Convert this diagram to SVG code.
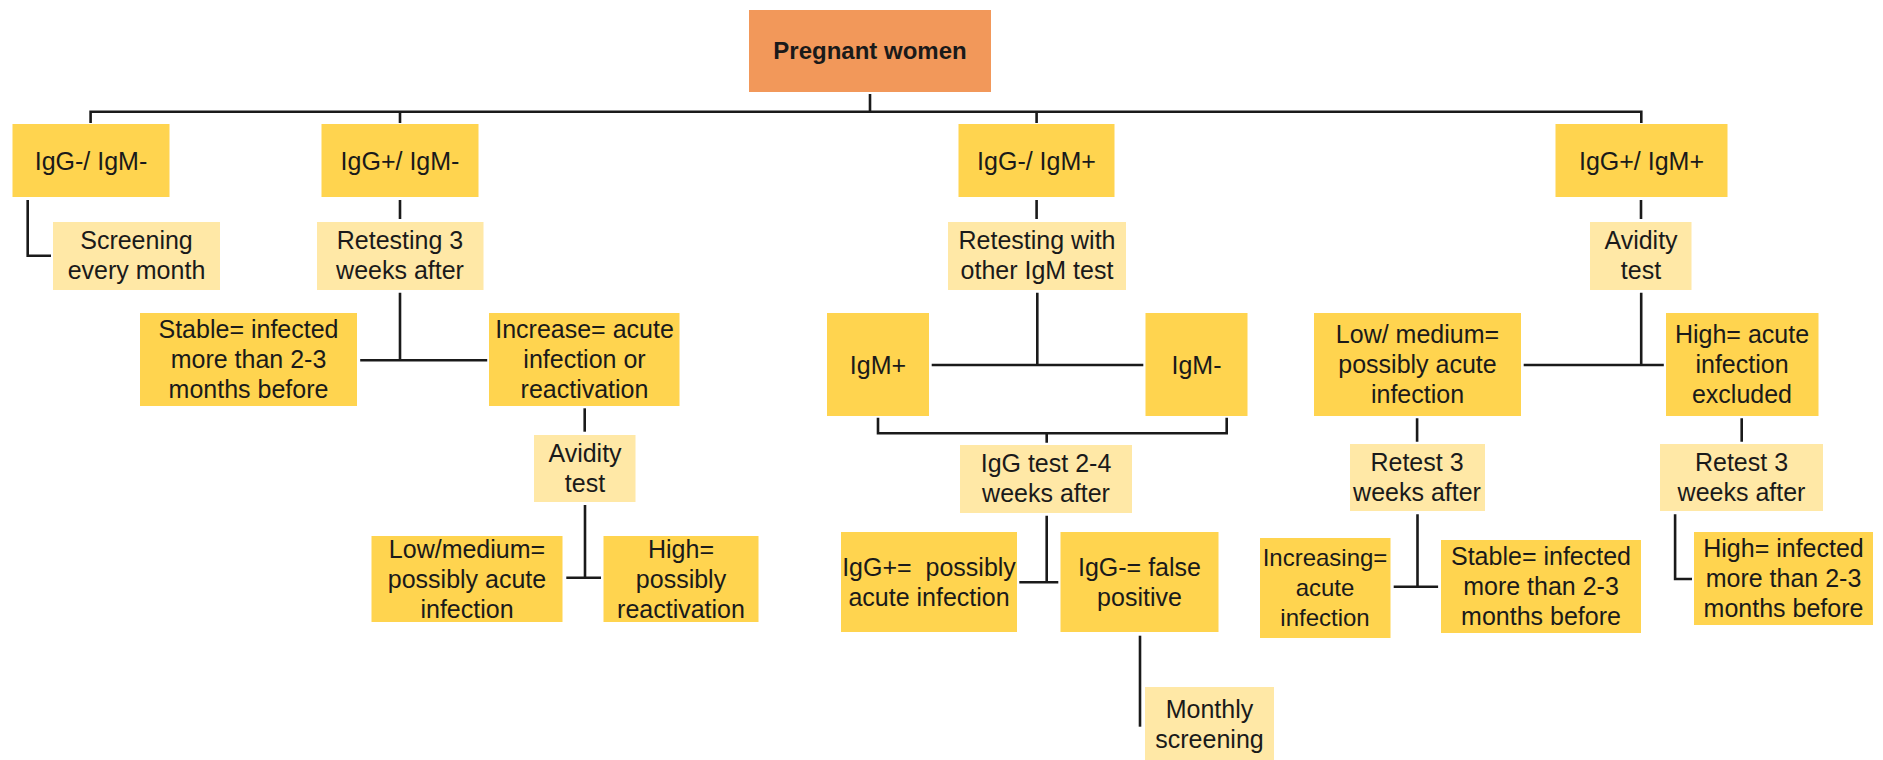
<svg xmlns="http://www.w3.org/2000/svg" width="1883" height="760" viewBox="0 0 1883 760">
<style>
.bg{fill:#ffffff}
.dk{fill:#FFD44F}
.lt{fill:#FFE8A6}
.or{fill:#F2985A}
text{font-family:"Liberation Sans",Arial,sans-serif;font-size:25px;fill:#1a1a1a;text-anchor:middle}
.b{font-weight:bold;font-size:24px}
.s{font-size:24px}
.c{fill:none;stroke:#1a1a1a;stroke-width:2.6;stroke-linecap:butt;stroke-linejoin:miter}
</style>
<rect class="bg" x="0" y="0" width="1883" height="760"/>
<g id="connectors">
<path class="c" d="M870 94 V112"/>
<path class="c" d="M90.6 123 V111.7 H1641.3 V123"/>
<path class="c" d="M400 111.7 V123 M1036.6 111.7 V123"/>
<path class="c" d="M27.7 200 V255.7 H51"/>
<path class="c" d="M400 200 V219 M1036.6 200 V219 M1641 200 V219"/>
<path class="c" d="M400 292.7 V360.3 M360.2 360.3 H487.2"/>
<path class="c" d="M584.7 408.3 V431.7"/>
<path class="c" d="M585 505 V577.7 M566.3 577.7 H601"/>
<path class="c" d="M1037.3 292.7 V365 M931.7 365 H1143.3"/>
<path class="c" d="M878 417.7 V433.3 H1226.7 V417.7 M1046.7 433.3 V442.7"/>
<path class="c" d="M1046.7 515.7 V582.3 M1019.3 582.3 H1058.3"/>
<path class="c" d="M1140 635.7 V726.7"/>
<path class="c" d="M1641.2 292.7 V365 M1523.7 365 H1663.8"/>
<path class="c" d="M1417.1 418.3 V441.7 M1741.7 418.3 V441.7"/>
<path class="c" d="M1417.5 514.3 V586.7 M1393.7 586.7 H1438.1"/>
<path class="c" d="M1675.1 514.3 V579 H1692"/>
</g>
<g id="pregnant"><rect class="or" x="749" y="10" width="242" height="82"/><text class="b" x="870" y="59">Pregnant women</text></g>
<g id="igg_neg_igm_neg"><rect class="dk" x="12.5" y="124" width="157" height="73"/><text x="91" y="169.5">IgG-/ IgM-</text></g>
<g id="igg_pos_igm_neg"><rect class="dk" x="321.5" y="124" width="157" height="73"/><text x="400" y="169.5">IgG+/ IgM-</text></g>
<g id="igg_neg_igm_pos"><rect class="dk" x="958.5" y="124" width="156" height="73"/><text x="1036.5" y="169.5">IgG-/ IgM+</text></g>
<g id="igg_pos_igm_pos"><rect class="dk" x="1555.5" y="124" width="172" height="73"/><text x="1641.5" y="169.5">IgG+/ IgM+</text></g>
<g id="screening"><rect class="lt" x="53" y="222" width="167" height="68"/><text x="136.5" y="249">Screening</text><text x="136.5" y="279">every month</text></g>
<g id="retesting3"><rect class="lt" x="317" y="222" width="166.5" height="68"/><text x="400" y="249">Retesting 3</text><text x="400" y="279">weeks after</text></g>
<g id="retesting_other"><rect class="lt" x="948" y="222" width="178" height="68"/><text x="1037" y="249">Retesting with</text><text x="1037" y="279">other IgM test</text></g>
<g id="avidity_right"><rect class="lt" x="1590" y="222" width="101.5" height="68"/><text x="1641" y="249">Avidity</text><text x="1641" y="279">test</text></g>
<g id="stable_left"><rect class="dk" x="140" y="313" width="217" height="93"/><text x="248.5" y="338">Stable= infected</text><text x="248.5" y="368">more than 2-3</text><text x="248.5" y="398">months before</text></g>
<g id="increase"><rect class="dk" x="489" y="313" width="190.5" height="93"/><text x="584.5" y="338">Increase= acute</text><text x="584.5" y="368">infection or</text><text x="584.5" y="398">reactivation</text></g>
<g id="igm_pos"><rect class="dk" x="827" y="313" width="102" height="103"/><text x="878" y="374">IgM+</text></g>
<g id="igm_neg"><rect class="dk" x="1145.5" y="313" width="102" height="103"/><text x="1196.5" y="374">IgM-</text></g>
<g id="low_medium_right"><rect class="dk" x="1314" y="313" width="207" height="103"/><text x="1417.5" y="343">Low/ medium=</text><text x="1417.5" y="373">possibly acute</text><text x="1417.5" y="403">infection</text></g>
<g id="high_acute"><rect class="dk" x="1666" y="313" width="152.5" height="103"/><text x="1742" y="343">High= acute</text><text x="1742" y="373">infection</text><text x="1742" y="403">excluded</text></g>
<g id="avidity_left"><rect class="lt" x="534" y="435" width="101.5" height="67"/><text x="585" y="462">Avidity</text><text x="585" y="492">test</text></g>
<g id="igg_test"><rect class="lt" x="960" y="445" width="172" height="68"/><text x="1046" y="472">IgG test 2-4</text><text x="1046" y="502">weeks after</text></g>
<g id="retest_left"><rect class="lt" x="1350" y="444" width="135" height="67"/><text x="1417" y="471">Retest 3</text><text x="1417" y="501">weeks after</text></g>
<g id="retest_right"><rect class="lt" x="1660" y="444" width="163" height="67"/><text x="1741.5" y="471">Retest 3</text><text x="1741.5" y="501">weeks after</text></g>
<g id="low_medium_left"><rect class="dk" x="371.5" y="536" width="191" height="86"/><text x="467" y="557.5">Low/medium=</text><text x="467" y="587.5">possibly acute</text><text x="467" y="617.5">infection</text></g>
<g id="high_reactivation"><rect class="dk" x="603.5" y="536" width="155" height="86"/><text x="681" y="557.5">High=</text><text x="681" y="587.5">possibly</text><text x="681" y="617.5">reactivation</text></g>
<g id="igg_pos_acute"><rect class="dk" x="841" y="532" width="176" height="100"/><text x="929" y="575.5" xml:space="preserve">IgG+=  possibly</text><text x="929" y="605.5">acute infection</text></g>
<g id="igg_neg_false"><rect class="dk" x="1060.5" y="532" width="158" height="100"/><text x="1139.5" y="575.5">IgG-= false</text><text x="1139.5" y="605.5">positive</text></g>
<g id="increasing"><rect class="dk" x="1260" y="538" width="130.5" height="100"/><text class="s" x="1325" y="566">Increasing=</text><text class="s" x="1325" y="596">acute</text><text class="s" x="1325" y="626">infection</text></g>
<g id="stable_right"><rect class="dk" x="1441" y="540" width="200" height="93"/><text x="1541" y="565">Stable= infected</text><text x="1541" y="595">more than 2-3</text><text x="1541" y="625">months before</text></g>
<g id="high_infected"><rect class="dk" x="1694" y="532" width="179" height="93"/><text x="1783.5" y="557">High= infected</text><text x="1783.5" y="587">more than 2-3</text><text x="1783.5" y="617">months before</text></g>
<g id="monthly"><rect class="lt" x="1145" y="687" width="129" height="80"/><text x="1209.5" y="718">Monthly</text><text x="1209.5" y="748">screening</text></g>
</svg>
